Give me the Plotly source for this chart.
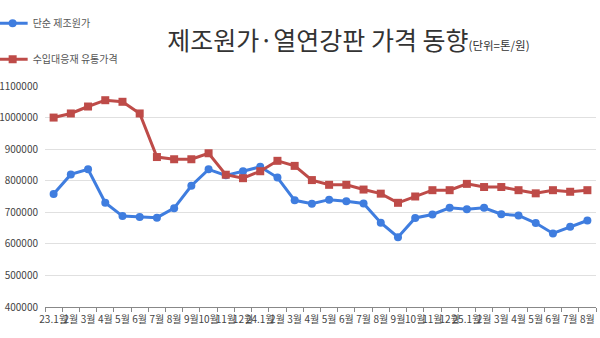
import plotly.graph_objects as go

categories = ["23.1월", "2월", "3월", "4월", "5월", "6월", "7월", "8월", "9월", "10월", "11월", "12월",
              "24.1월", "2월 ", "3월 ", "4월 ", "5월 ", "6월 ", "7월 ", "8월 ", "9월 ", "10월 ", "11월 ", "12월 ",
              "25.1월", "2월  ", "3월  ", "4월  ", "5월  ", "6월  ", "7월  ", "8월  "]

cost = [758000, 820000, 836000, 730000, 688000, 685000, 683000, 713000, 784000, 836000, 817000, 830000,
        844000, 810000, 738000, 727000, 740000, 735000, 728000, 667000, 621000, 682000, 693000, 714000,
        710000, 714000, 694000, 690000, 666000, 633000, 654000, 674000]

import_price = [1000000, 1013000, 1035000, 1055000, 1050000, 1013000, 875000, 868000, 868000, 887000, 819000, 808000,
                830000, 863000, 847000, 802000, 787000, 787000, 772000, 759000, 730000, 750000, 770000, 770000,
                790000, 780000, 780000, 770000, 760000, 770000, 765000, 770000]

ytick_vals = [400000, 500000, 600000, 700000, 800000, 900000, 1000000, 1100000]

BLUE = "#3f7ddf"
RED = "#be4b48"

fig = go.Figure()
fig.add_trace(go.Scatter(
    x=categories, y=cost, name="단순 제조원가", mode="lines+markers",
    line=dict(color=BLUE, width=3), marker=dict(symbol="circle", size=8, color=BLUE),
    legendgroup="a"))
fig.add_trace(go.Scatter(
    x=categories, y=import_price, name="수입대응재 유통가격", mode="lines+markers",
    line=dict(color=RED, width=3), marker=dict(symbol="square", size=8, color=RED),
    legendgroup="b"))

fig.update_layout(
    width=600, height=338,
    margin=dict(l=45, r=4, t=86, b=31, autoexpand=False),
    paper_bgcolor="white", plot_bgcolor="white",
    font=dict(family="Noto Sans CJK KR", color="#444"),
    title=dict(
        text="제조원가·열연강판 가격 동향<span style='font-size:11.5px'>(단위=톤/원)</span>",
        font=dict(size=25, color="#333", family="Noto Sans CJK KR"),
        x=0.222, xanchor="left", xref="paper", y=0.877, yanchor="middle"),
    showlegend=True,
    legend=dict(
        x=-0.095, y=1.35, xanchor="left", yanchor="top",
        font=dict(size=10, color="#555"), tracegroupgap=17, bgcolor="rgba(0,0,0,0)"),
    xaxis=dict(
        type="category", tickmode="array", tickvals=categories, ticktext=[c.strip() for c in categories],
        tickangle=0, tickfont=dict(size=10, color="#444"), showgrid=False,
        showline=True, linecolor="#888", linewidth=1, ticks="outside", ticklen=4, tickcolor="#888",
        tickson="boundaries", range=[-0.5, len(categories) - 0.5], ticklabelstandoff=3),
    yaxis=dict(
        range=[400000, 1100000], tickvals=ytick_vals, tickformat="d",
        tickfont=dict(size=10, color="#444"), gridcolor="#e0e0e0", gridwidth=1,
        zeroline=False, showline=False, ticks="", ticklabelstandoff=6),
)

fig.write_html("out.html")
